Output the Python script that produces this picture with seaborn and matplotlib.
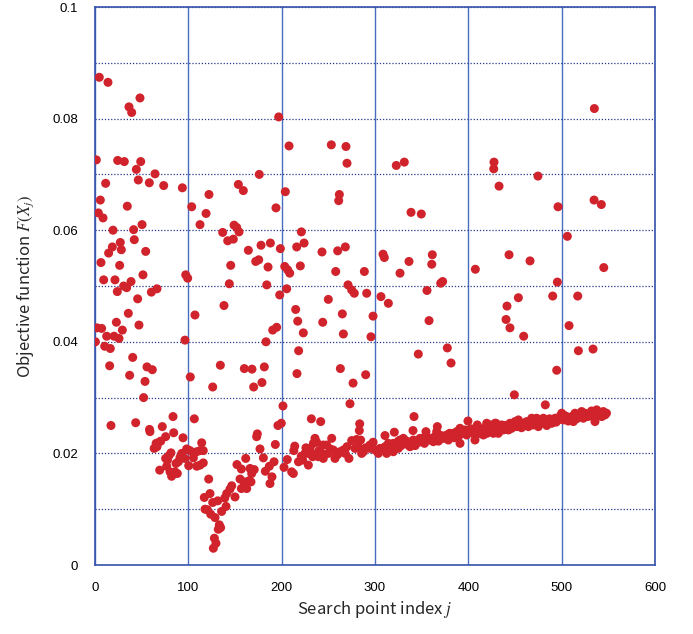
import numpy as np
import pandas as pd
import seaborn as sns
import matplotlib.pyplot as plt
from matplotlib.ticker import MultipleLocator

# search index j and objective value F, grouped by region
j_a = [4.6, 13.9, 48.2, 36.4, 39.3, 1.4, 24.3, 31.4, 49, 44.3, 64.3, 11.4, 46.4, 58.2, 73.6, 93.6,
       5.7, 34.6, 103.6, 3.6, 8.6, 50.4, 112.5, 19.3, 41.4, 42.1, 27.1, 18.6, 28.2, 54.3, 14.6, 6.4,
       26.4, 51.4, 97.2, 99.3, 9.3, 21.4, 38.6, 30.7, 33.9, 23.9, 66.4, 60.4, 45.7, 35.7, 107.1, 22.9,
       47.1, 2.1, 7.1, 29.3, 12.5, 20.4, 25.7, 96.4]
F_a = [.0874, .0865, .0837, .0821, .0811, .0726, .0725, .0723, .0723, .0709, .0701, .0684, .0690, .0685, .0680, .0676,
       .0654, .0643, .0642, .0631, .0622, .0610, .0610, .0600, .0601, .0583, .0578, .0570, .0565, .0562, .0559, .0542,
       .0537, .0520, .0520, .0514, .0511, .0511, .0508, .0500, .0497, .0490, .0495, .0489, .0477, .0451, .0448, .0435,
       .0430, .0425, .0424, .0421, .0410, .0410, .0406, .0403]

j_b = [0.4, 10.4, 16.4, 40.4, 15.7, 55.7, 61.4, 37.1, 102.1, 53.6, 52.1, 83.6, 106.4, 17.1, 43.6, 58.4,
       58.9, 72.1, 84.3, 94.3, 75.7, 70.4, 67.5, 65.5, 63.4, 66.4, 81.4, 79.3, 75.7, 98.2, 101.8, 92.9,
       91.1, 96.1, 109, 105.4, 77.6, 89.3, 86.8, 100.4, 109, 76.8, 69.3, 80.4, 85.7, 82.1, 88.2]
F_b = [.0400, .0392, .0388, .0372, .0357, .0355, .0350, .0340, .0337, .0329, .0300, .0266, .0262, .0250, .0255, .0243,
       .0239, .0248, .0237, .0228, .0230, .0222, .0219, .0218, .0209, .0212, .0201, .0196, .0191, .0208, .0205, .0200,
       .0193, .0191, .0203, .0192, .0188, .0185, .0182, .0178, .0177, .0177, .0170, .0167, .0167, .0159, .0164]

j_c = [183.2, 218.2, 134.3, 160, 168.2, 181.4, 216.4, 178.9, 170, 126.1, 201.4, 196, 199.6, 173.9, 173.2, 114.3,
       193.2, 214, 213, 176.8, 112.5, 116, 112.5, 116, 161.5, 180.4, 206, 152.1, 156.8, 166.1, 170.6, 167.9,
       186.8, 182.5, 191.8, 202.5, 210.7, 212.5, 121.8, 155.4, 159.7, 165, 162.5, 167.1, 156.8, 162.5, 189.6, 187.5,
       146.5, 144.6, 141.1, 150, 123.2, 117.1, 139, 126.1, 131.5, 140.4, 117.9, 120.4, 135.7, 124, 128.6, 133.2,
       134.6, 132.1, 127.9, 129.6, 126.8]
F_c = [.0400, .0384, .0358, .0352, .0351, .0355, .0343, .0327, .0319, .0319, .0285, .0250, .0254, .0235, .0230, .0219,
       .0216, .0213, .0205, .0208, .0205, .0205, .0179, .0183, .0191, .0192, .0189, .0180, .0172, .0173, .0171, .0164,
       .0177, .0168, .0185, .0175, .0167, .0164, .0154, .0154, .0149, .0151, .0146, .0149, .0137, .0137, .0158, .0146,
       .0142, .0136, .0128, .0122, .0128, .0121, .0120, .0112, .0115, .0105, .0100, .0099, .0096, .0091, .0085, .0072,
       .0067, .0064, .0048, .0039, .0030]

j_d = [196.8, 207.9, 176, 153.6, 158.9, 203.9, 122.1, 193.9, 119, 149, 151.8, 154.3, 136.8, 142.2, 148.2, 177.9,
       187.9, 164.3, 198.6, 216.1, 172.2, 175.4, 145.4, 185.4, 203.3, 206.4, 208.6, 143.9, 184, 205.4, 197.9, 138.2,
       215, 217.2, 190.4, 194.6]
F_d = [.0803, .0751, .0700, .0682, .0671, .0669, .0664, .0640, .0630, .0609, .0605, .0597, .0596, .0581, .0584, .0573,
       .0577, .0564, .0567, .0570, .0544, .0547, .0537, .0534, .0535, .0529, .0523, .0504, .0502, .0495, .0484, .0465,
       .0458, .0437, .0421, .0426]

j_e = [253.2, 268.9, 270, 322.8, 261.8, 261.1, 221.1, 224, 243.2, 260, 268.2, 308.6, 310, 220, 257.9, 288.6,
       326.8, 271.1, 275, 277.8, 291.1, 250, 306.4, 314.3, 265, 297.9, 244, 223.2, 266.1, 295.7]
F_e = [.0753, .0750, .0720, .0716, .0664, .0653, .0597, .0577, .0561, .0563, .0570, .0557, .0551, .0536, .0526, .0526,
       .0523, .0502, .0493, .0487, .0487, .0476, .0481, .0469, .0450, .0446, .0435, .0416, .0414, .0409]

j_f = [262.9, 290, 276.5, 273.2, 231.8, 241.8, 283.6, 283.2, 320.7, 310.7, 235.7, 234, 237.5, 253.6, 248.2, 244.6,
       230.4, 225, 228.6, 232.1, 222.5, 228.6, 233.2, 239.3, 243, 244.6, 255.4, 257.1, 266, 262.5, 272.1, 275,
       280.4, 284.6, 278.6, 282.1, 287.5, 285.7, 294.6, 294.6, 300, 303.6, 305.4, 310.7, 314.3, 317.9, 323.2, 312.5,
       319.6, 325, 326.8, 218, 221, 226, 240, 250, 252, 260, 268, 270, 290, 298]
F_f = [.0352, .0341, .0326, .0289, .0262, .0257, .0253, .0241, .0238, .0232, .0227, .0218, .0220, .0227, .0215, .0215,
       .0209, .0200, .0200, .0200, .0188, .0179, .0194, .0194, .0200, .0191, .0206, .0191, .0206, .0203, .0191, .0223,
       .0225, .0224, .0209, .0212, .0203, .0200, .0215, .0209, .0206, .0200, .0209, .0212, .0218, .0215, .0215, .0200,
       .0203, .0209, .0218, .0185, .0195, .0210, .0205, .0200, .0208, .0198, .0200, .0212, .0210, .0220]

j_g = [331.4, 427.5, 427.2, 432.9, 338.6, 349.6, 361.4, 336.4, 360.8, 407.5, 372.5, 370.4, 355.7, 357.9,
       346.4, 377.5, 381.5, 341.8, 340.7, 354.6, 366.8, 366.1, 399.6, 409.6, 419.7, 429.6]
F_g = [.0722, .0722, .0710, .0679, .0632, .0629, .0556, .0544, .0539, .0530, .0508, .0505, .0492, .0438,
       .0378, .0389, .0362, .0266, .0241, .0239, .0248, .0239, .0258, .0251, .0254, .0254]

j_h = [319.6, 317.9, 323.2, 326.8, 330.4, 332.1, 335.7, 337.5, 341.1, 344.6, 348.2, 351.8, 355.4, 358.9, 362.5, 366.1,
       369.6, 373.2, 376.8, 378.6, 382.1, 383.9, 387.5, 389.3, 391.1, 392.9, 391.1, 396.4, 398.2, 401.8, 405.4, 407.1,
       410.7, 414.3, 416.1, 421.4, 425, 426.8, 430.4, 432.1,
       321, 325, 328, 334, 339, 343, 347, 350, 353, 357, 361, 364, 368, 371, 375, 380,
       385, 388, 394, 397, 400, 403, 406, 409, 412, 415, 418, 420, 423, 428, 431, 434]
F_h = [.0218, .0206, .0215, .0224, .0227, .0218, .0215, .0212, .0224, .0221, .0227, .0227, .0224, .0224, .0221, .0227,
       .0230, .0227, .0233, .0224, .0230, .0236, .0239, .0230, .0245, .0236, .0218, .0242, .0233, .0242, .0236, .0224,
       .0239, .0242, .0233, .0242, .0245, .0236, .0248, .0239,
       .0210, .0222, .0214, .0222, .0218, .0214, .0220, .0222, .0218, .0228, .0226, .0230, .0222, .0232, .0228, .0236,
       .0228, .0234, .0240, .0236, .0238, .0244, .0240, .0234, .0244, .0238, .0246, .0236, .0248, .0242, .0244, .0250]

j_i = [535, 474.6, 534.7, 542.5, 496.1, 506.1, 443.6, 466.1, 545.1, 495.4, 453.6, 490.4, 517.2, 441.4, 440.4, 444.6,
       507.9, 459.3, 517.9, 533.6, 494.7, 449.3, 482.5]
F_i = [.0818, .0697, .0654, .0646, .0642, .0589, .0556, .0545, .0533, .0507, .0479, .0482, .0482, .0464, .0440, .0425,
       .0429, .0410, .0384, .0387, .0349, .0305, .0287]

j_k = [423.2, 425, 428.6, 430.4, 432.1, 435.7, 437.5, 441.1, 444.6, 446.4, 450, 453.6, 455.4, 458.9, 462.5, 464.3,
       467.9, 469.6, 473.2, 475, 476.8, 480.4, 482.1, 485.7, 489.3, 492.9, 496.4, 500, 501.8, 505.4, 508.9, 512.5,
       514.3, 517.9, 521.4, 523.2, 526.8, 530.4, 533.9, 535.7, 537.5, 541.1, 544.6, 546.4, 542.9,
       427, 434, 439, 443, 448, 452, 457, 461, 466, 471, 478, 484, 487, 491, 494, 498,
       503, 507, 511, 516, 519, 525, 528, 532, 539, 548]
F_k = [.0251, .0239, .0254, .0242, .0236, .0251, .0242, .0248, .0254, .0245, .0257, .0260, .0251, .0254, .0257, .0248,
       .0263, .0251, .0263, .0248, .0254, .0263, .0254, .0257, .0254, .0263, .0260, .0272, .0260, .0266, .0263, .0257,
       .0272, .0266, .0275, .0263, .0269, .0272, .0266, .0257, .0278, .0272, .0275, .0269, .0266,
       .0246, .0244, .0250, .0242, .0250, .0248, .0246, .0252, .0256, .0258, .0260, .0250, .0262, .0258, .0256, .0266,
       .0268, .0258, .0266, .0262, .0270, .0272, .0266, .0276, .0268, .0272]

j_all = j_a + j_b + j_c + j_d + j_e + j_f + j_g + j_h + j_i + j_k
F_all = F_a + F_b + F_c + F_d + F_e + F_f + F_g + F_h + F_i + F_k
df = pd.DataFrame({'j': j_all, 'F': F_all})

sns.set_style('white')
plt.rcParams['font.family'] = ['Liberation Sans', 'DejaVu Sans']
plt.rcParams['mathtext.fontset'] = 'stix'

fig = plt.figure(figsize=(6.93, 6.34), dpi=100)
ax = fig.add_axes([95/693, 69/634, 560/693, 558/634])

blue = '#3553aa'
sns.scatterplot(data=df, x='j', y='F', ax=ax, color='#d0232c', s=42, edgecolor='none', zorder=3)

ax.set_xlim(0, 600)
ax.set_ylim(0, 0.1)
ax.xaxis.set_major_locator(MultipleLocator(100))
ax.yaxis.set_major_locator(MultipleLocator(0.02))
ax.yaxis.set_minor_locator(MultipleLocator(0.01))
ax.set_yticks([0, 0.02, 0.04, 0.06, 0.08, 0.1])
ax.set_yticklabels(['0', '0.02', '0.04', '0.06', '0.08', '0.1'])

ax.yaxis.grid(True, which='both', linestyle=(0, (1, 1.5)), color='#26388a', linewidth=0.9)
ax.xaxis.grid(True, which='major', linestyle='-', color='#4a6cc0', linewidth=1.0)
ax.set_axisbelow(True)

for sp in ax.spines.values():
    sp.set_color(blue)
    sp.set_linewidth(1.2)
ax.tick_params(axis='both', which='both', direction='in', colors=blue, labelcolor='black',
               labelsize=9.5, length=4, width=1)
ax.tick_params(axis='y', pad=12)
ax.tick_params(axis='x', pad=12)

lab_font = ['Noto Sans CJK JP', 'DejaVu Sans']
ax.set_xlabel(r'Search point index $j$', fontsize=12, family=lab_font, labelpad=4)
ax.set_ylabel(r'Objective function $F(X_j)$', fontsize=12, family=lab_font, labelpad=12)

fig.savefig('out.png', dpi=100)
